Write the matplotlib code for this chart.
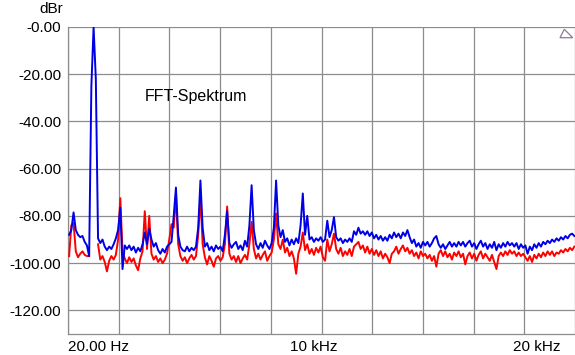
import numpy as np
import matplotlib
matplotlib.use('Agg')
import matplotlib.pyplot as plt
from matplotlib.patches import Polygon

plt.rcParams['font.family'] = ['Liberation Sans', 'DejaVu Sans']

# FFT-Bins in kHz (Abstand 0.1 kHz)
freq = 0.07 + 0.1 * np.arange(228)

# Pegel in dBr (rot: Grundton liegt unter blau, daher leer)
nan = float('nan')
blau = [
    -88, -86, -78.5, -86, -88, -89, -88.5, -91, -92.5, -97,
    -25, 0, -22, -89.5, -91.5, -90, -93, -94.5, -93, -94,
    -92, -89.5, -86, -76.5, -102.5, -92.5, -94, -92.5, -94.5, -93,
    -95.5, -93.5, -95, -92, -87, -92, -85.5, -90, -93, -91.5,
    -94.5, -96, -94, -95.5, -93, -92, -91, -80, -68, -88,
    -93, -94.5, -95, -93, -95, -93.5, -94.5, -93, -85, -65,
    -85, -93, -91.5, -94.5, -93, -95, -92.5, -94, -93, -95,
    -88, -78, -91.5, -93.5, -92, -91, -94, -92.5, -94.5, -90.5,
    -93, -84, -67, -86, -92, -94, -91.5, -93.5, -90.5, -92.5,
    -94, -91.5, -85, -65, -84, -89, -86, -91, -89.5, -92.5,
    -90, -92, -89.5, -91.5, -84, -70.5, -88, -80, -90, -89,
    -91, -89.5, -90.5, -89, -91, -90, -82, -89, -86, -80.5,
    -89, -90.5, -89.5, -91.5, -90, -91, -89.5, -91, -86.5, -88,
    -85, -87.5, -86.5, -88, -86.5, -88.5, -87, -89.5, -88, -90,
    -88.5, -90.5, -89, -90.5, -88, -89.5, -87, -89, -87.5, -89.5,
    -87, -88.5, -86, -89, -91.5, -90, -93, -91.5, -93.5, -91,
    -92.5, -91, -93, -91.5, -89.5, -88.5, -92, -93.5, -92, -94,
    -92.5, -91, -93, -91.5, -93, -91, -92.5, -91, -93, -91.5,
    -90.5, -93, -91.5, -94, -92, -90.5, -93, -91.5, -94, -92,
    -93.5, -91, -94.5, -92, -93.5, -91.5, -93, -91, -92.5, -91.5,
    -93, -91.5, -94, -92, -93.5, -92.5, -96, -93, -94.5, -92,
    -93.5, -91.5, -93, -91, -92, -90.5, -91.5, -90, -91, -89.5,
    -90.5, -89, -90, -88.5, -89.5, -88, -87.5, -88.5,
]
rot = [
    -97, -84, -83, -95, -97.5, -96, -95, -96.5, -97, -97,
    nan, nan, nan, -92, -98.5, -97, -99.5, -103.5, -99, -97,
    -98.5, -96.5, -90, -72.5, -95, -98, -100, -97.5, -99.5, -98,
    -101, -103, -98, -95, -78, -94, -80, -96, -98.5, -97,
    -99.5, -98, -100, -98.5, -96, -90, -83.5, -85, -71, -92,
    -97, -99, -97.5, -100, -98, -96.5, -98.5, -97, -88, -72,
    -92, -97.5, -100.5, -97, -99, -101.5, -98, -97, -99, -97.5,
    -92, -76, -96, -98.5, -97, -99.5, -97, -100, -98, -96.5,
    -98.5, -92, -82.5, -94, -98, -96, -98.5, -96.5, -95, -99,
    -97, -95.5, -90, -79, -92, -94, -90, -95.5, -93.5, -97,
    -95, -98, -104.5, -96, -93, -87, -94.5, -92, -96, -94,
    -96.5, -93.5, -95.5, -93, -97.5, -99, -90, -95, -92, -87.5,
    -94, -96, -93.5, -97, -95, -96.5, -94, -97, -93, -92,
    -91, -94, -92.5, -95.5, -93, -96, -94, -96.5, -94.5, -97,
    -95, -98, -96, -97.5, -100, -96, -95, -93, -96, -94,
    -92.5, -95, -93.5, -96, -94.5, -97, -95.5, -98, -95, -97,
    -96, -98, -96.5, -99, -97, -101.5, -96, -94.5, -97, -95,
    -97.5, -96, -98.5, -95.5, -97, -95, -97.5, -96, -100.5, -97,
    -95.5, -98, -96, -99, -96.5, -95, -98, -96, -97.5, -99,
    -96.5, -99.5, -102.5, -97, -95.5, -97, -95, -96.5, -94.5, -96,
    -95, -97, -95.5, -97, -96, -97.5, -99, -97, -99.5, -96.5,
    -98, -96, -97.5, -95.5, -97, -95, -96.5, -95, -97, -95.5,
    -96, -94.5, -95.5, -94, -95, -93.5, -94.5, -93,
]

y_ticks = [0, -20, -40, -60, -80, -100, -120]
y_labels = ['-0.00', '-20.00', '-40.00', '-60.00', '-80.00', '-100.00', '-120.00']
x_marken = [0.02, 10, 20]
x_texte = ['20.00 Hz', '10 kHz', '20 kHz']

f_min, f_max = 0.02, 22.8

fig = plt.figure(figsize=(5.75, 3.55), dpi=100)
ax = fig.add_axes([68 / 575, 1 - 334 / 355, 1 - 68 / 575, 307 / 355])

ax.plot(freq, rot, color='#ff0000', lw=1.4, zorder=3)
ax.plot(freq, blau, color='#0000e6', lw=1.4, zorder=4)

ax.set_xlim(f_min, f_max)
ax.set_ylim(-130, 0)
ax.set_xticks(np.linspace(f_min, f_max, 11))
ax.set_xticklabels([])
ax.set_yticks(y_ticks)
ax.set_yticklabels(y_labels, fontsize=11)
ax.tick_params(length=0, pad=5)
ax.grid(True, color='#8c8c8c', lw=0.9)
for s in ['top', 'right']:
    ax.spines[s].set_visible(False)
for s in ['left', 'bottom']:
    ax.spines[s].set_color('#8c8c8c')
    ax.spines[s].set_linewidth(0.9)

trans = ax.get_xaxis_transform()
for f, t in zip(x_marken, x_texte):
    ax.text(f, -0.042, t, transform=trans, ha='left', va='center', fontsize=11, clip_on=False)

fig.text(51 / 575, 1 - 9 / 355, 'dBr', ha='center', va='center', fontsize=11)
ax.text(145 / 575, 1 - 97 / 355, 'FFT-Spektrum', transform=fig.transFigure,
        ha='left', va='center', fontsize=11.5)

dreieck = Polygon([(560 / 575, 1 - 37.7 / 355), (564.3 / 575, 1 - 29.3 / 355), (572.7 / 575, 1 - 37.7 / 355)],
                  closed=True, fill=False, edgecolor='#8a7a9a', lw=0.9, transform=fig.transFigure)
fig.patches.append(dreieck)

fig.savefig('out.png', dpi=100)
